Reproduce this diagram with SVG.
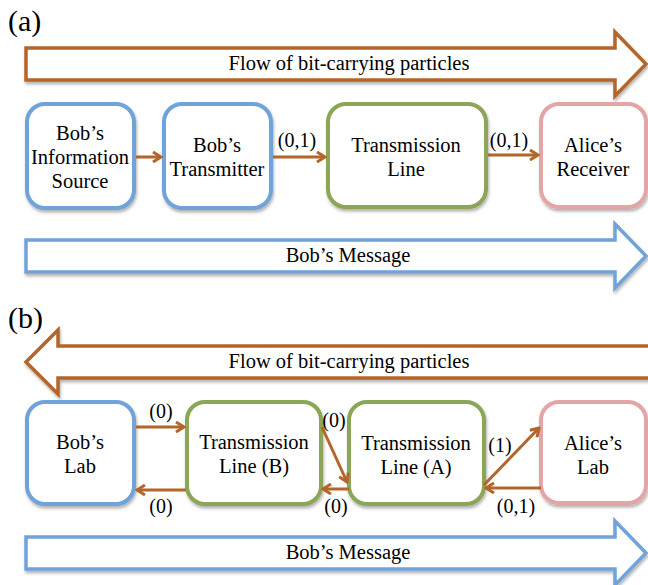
<svg xmlns="http://www.w3.org/2000/svg" width="648" height="585" viewBox="0 0 648 585">
<style>
text{font-family:'Liberation Serif','Times New Roman',serif;fill:#000;}
.t{font-size:20.5px;text-anchor:middle;}
.lab{font-size:20px;text-anchor:middle;}
.hdr{font-size:30px;}
.box{fill:#fff;stroke-width:4;filter:url(#sh);}
.blue{stroke:#6fa3da;}
.green{stroke:#8aa656;}
.pink{stroke:#e3a6a6;}
.big{fill:#fff;stroke-width:3.5;stroke-linejoin:miter;filter:url(#sh);}
.conn{stroke:#b3652a;stroke-width:3;fill:none;marker-end:url(#ah);}
</style>
<defs>
<filter id="sh" x="-10%" y="-10%" width="120%" height="130%">
<feDropShadow dx="1" dy="2.5" stdDeviation="1.5" flood-color="#000" flood-opacity="0.3"/>
</filter>
<marker id="ah" markerWidth="12" markerHeight="12" viewBox="0 0 12 12" refX="10" refY="6" orient="auto" markerUnits="userSpaceOnUse">
<path d="M2,1 L10,6 L2,11" fill="none" stroke="#b3652a" stroke-width="3" stroke-linejoin="miter"/>
</marker>
</defs>

<text class="hdr" x="8" y="31">(a)</text>
<text class="hdr" x="8" y="328">(b)</text>

<g id="flow-a">
<path class="big" stroke="#b3652a" d="M26,48 L615,48 L615,32 L646,64 L615,96 L615,80 L26,80 Z"/>
<text class="t" x="349" y="70">Flow of bit-carrying particles</text>
</g>

<g id="msg-a">
<path class="big" stroke="#6fa3da" d="M26,240 L615,240 L615,224 L646,256 L615,288 L615,272 L26,272 Z"/>
<text class="t" x="348" y="262">Bob’s Message</text>
</g>

<g id="flow-b">
<path class="big" stroke="#b3652a" d="M650,346 L58,346 L58,330 L26,362 L58,394 L58,378 L650,378"/>
<text class="t" x="349" y="368">Flow of bit-carrying particles</text>
</g>

<g id="msg-b">
<path class="big" stroke="#6fa3da" d="M26,537 L615,537 L615,521 L646,553 L615,585 L615,569 L26,569 Z"/>
<text class="t" x="348" y="559">Bob’s Message</text>
</g>

<g id="a-source">
<rect class="box blue" x="27" y="104" width="107" height="104" rx="18"/>
<text class="t" x="80" y="140">Bob’s</text>
<text class="t" x="80" y="164">Information</text>
<text class="t" x="80" y="188">Source</text>
</g>
<g id="a-transmitter">
<rect class="box blue" x="164" y="104" width="107" height="104" rx="18"/>
<text class="t" x="217" y="152">Bob’s</text>
<text class="t" x="217" y="176">Transmitter</text>
</g>
<g id="a-line">
<rect class="box green" x="328" y="104" width="158" height="103" rx="18"/>
<text class="t" x="406" y="152">Transmission</text>
<text class="t" x="406" y="176">Line</text>
</g>
<g id="a-receiver">
<rect class="box pink" x="541" y="104" width="105" height="103" rx="18"/>
<text class="t" x="593" y="152">Alice’s</text>
<text class="t" x="593" y="176">Receiver</text>
</g>

<g id="b-boblab">
<rect class="box blue" x="27" y="402" width="107" height="102" rx="18"/>
<text class="t" x="80" y="449">Bob’s</text>
<text class="t" x="80" y="473">Lab</text>
</g>
<g id="b-lineB">
<rect class="box green" x="187" y="402" width="134" height="102" rx="18"/>
<text class="t" x="254" y="449">Transmission</text>
<text class="t" x="254" y="473">Line (B)</text>
</g>
<g id="b-lineA">
<rect class="box green" x="349" y="402" width="135" height="102" rx="18"/>
<text class="t" x="416" y="450">Transmission</text>
<text class="t" x="416" y="474">Line (A)</text>
</g>
<g id="b-alicelab">
<rect class="box pink" x="541" y="402" width="105" height="101" rx="18"/>
<text class="t" x="593" y="450">Alice’s</text>
<text class="t" x="593" y="474">Lab</text>
</g>

<g id="connectors">
<line class="conn" x1="136" y1="157" x2="161" y2="157"/>
<line class="conn" x1="273" y1="157" x2="325" y2="157"/>
<text class="lab" x="297" y="147">(0,1)</text>
<line class="conn" x1="488" y1="155" x2="538" y2="155"/>
<text class="lab" x="509" y="147">(0,1)</text>

<line class="conn" x1="136" y1="427" x2="184" y2="427"/>
<text class="lab" x="161" y="418">(0)</text>
<line class="conn" x1="186" y1="490" x2="137" y2="490"/>
<text class="lab" x="161" y="513">(0)</text>

<line class="conn" x1="322" y1="427" x2="347" y2="482"/>
<text class="lab" x="334" y="427">(0)</text>
<line class="conn" x1="349" y1="489" x2="323" y2="489"/>
<text class="lab" x="336" y="513">(0)</text>

<line class="conn" x1="484" y1="485" x2="539" y2="428"/>
<text class="lab" x="500" y="452">(1)</text>
<line class="conn" x1="541" y1="488" x2="486" y2="488"/>
<text class="lab" x="516" y="513">(0,1)</text>
</g>
</svg>
